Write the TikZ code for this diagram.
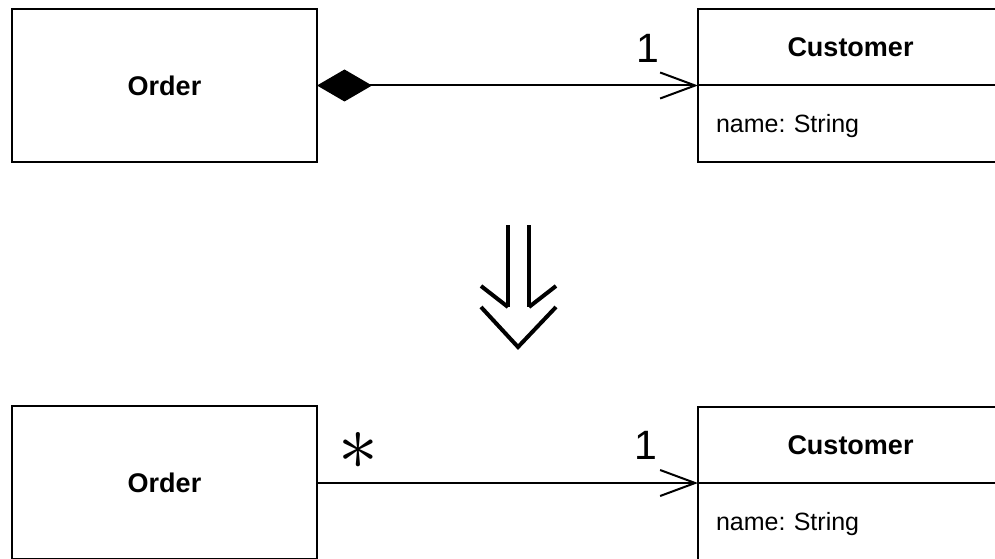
\documentclass[tikz,border=0pt]{standalone}
\usepackage{fontspec}
\setmainfont{Liberation Sans}
\frenchspacing
\usetikzlibrary{arrows.meta}

\tikzset{
  umlbox/.style={draw, line width=2pt, anchor=north west, inner sep=0pt, outer sep=0pt},
  classname/.style={font=\fontsize{27}{32}\selectfont\bfseries},
  attrbox/.style={umlbox, font=\fontsize{25}{30}\selectfont, text width=269pt, text depth=0pt, inner xsep=18pt, align=left},
  mult/.style={font=\fontsize{41}{41}\selectfont, inner sep=0pt},
  assoc/.style={line width=2pt, -{Straight Barb[length=35pt,width=26pt,line width=2pt]}},
  composition/.style={assoc, {Diamond[length=55pt,width=32pt]}-{Straight Barb[length=35pt,width=26pt,line width=2pt]}},
  refactor/.style={line width=4pt, line join=miter},
}

\begin{document}
\begin{tikzpicture}[x=1pt, y=-1pt]

    \useasboundingbox (0, 0) rectangle (995, 559);
    \clip (0, 0) rectangle (995, 559);

    % before
    \node[umlbox, classname, minimum width=305pt, minimum height=153pt] (ordertop) at (12, 9) {Order};
    \node[umlbox, classname, minimum width=305pt, minimum height=76pt] (custtop) at (698, 9) {Customer};
    \node[attrbox, minimum height=77pt] (attrtop) at (custtop.south west) {name: String};

    \draw[composition] (ordertop.east) -- (ordertop.east -| custtop.west);
    \node[mult] (onetop) at (648, 48) {1};

    % refactoring arrow
    \draw[refactor] (508, 225) -- (508, 307);
    \draw[refactor] (529, 225) -- (529, 307);
    \draw[refactor] (481, 286) -- (508, 307);
    \draw[refactor] (556, 286) -- (529, 307);
    \draw[refactor] (481, 307) -- (518, 347) -- (556, 307);

    % after
    \node[umlbox, classname, minimum width=305pt, minimum height=153pt] (orderbot) at (12, 406) {Order};
    \node[umlbox, classname, minimum width=305pt, minimum height=76pt] (custbot) at (698, 407) {Customer};
    \node[attrbox, minimum height=77pt] (attrbot) at (custbot.south west) {name: String};

    \draw[assoc] (custbot.south west -| orderbot.east) -- (custbot.south west);
    \node[mult] (manybot) at (358, 451) {\scalebox{3.2}{$\ast$}};
    \node[mult] (onebot) at (646, 445) {1};

\end{tikzpicture}
\end{document}
